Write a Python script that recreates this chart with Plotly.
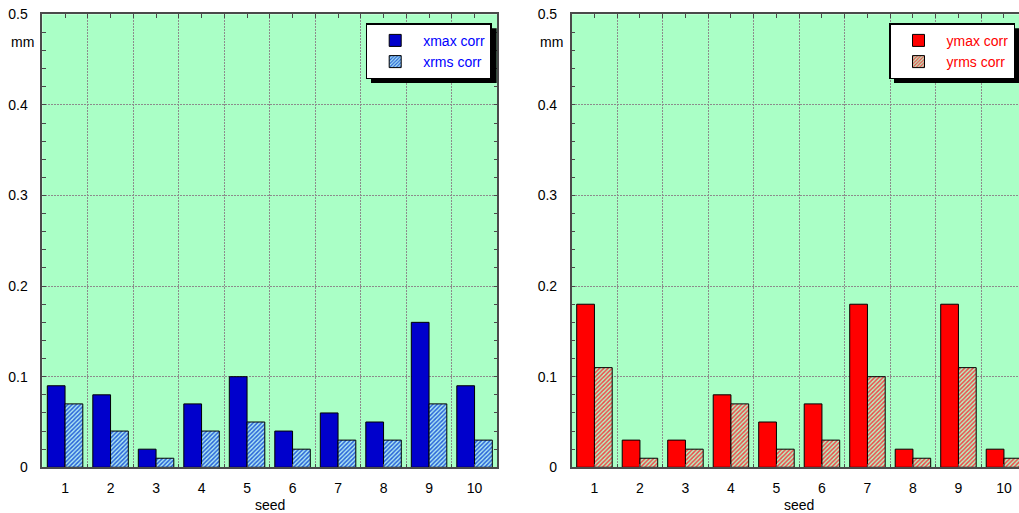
import plotly.graph_objects as go

seeds = [1, 2, 3, 4, 5, 6, 7, 8, 9, 10]
xmax_corr = [0.09, 0.08, 0.02, 0.07, 0.10, 0.04, 0.06, 0.05, 0.16, 0.09]
xrms_corr = [0.07, 0.04, 0.01, 0.04, 0.05, 0.02, 0.03, 0.03, 0.07, 0.03]
ymax_corr = [0.18, 0.03, 0.03, 0.08, 0.05, 0.07, 0.18, 0.02, 0.18, 0.02]
yrms_corr = [0.11, 0.01, 0.02, 0.07, 0.02, 0.03, 0.10, 0.01, 0.11, 0.01]
y_ticks = [0, 0.1, 0.2, 0.3, 0.4, 0.5]
y_ticktext = ["0", "0.1", "0.2", "0.3", "0.4", "0.5"]

W, H = 1019, 513
FONT = "Liberation Sans, Arial, sans-serif"
BG = "#aaffc6"
FRAME = "#4a4a4a"
GRID = "#8c8c8c"
GRIDDASH = "2px,1px"

def px(x):
    return x / W

def py(y):
    return 1 - y / H

fig = go.Figure()

fig.add_trace(go.Bar(x=seeds, y=xmax_corr, name="xmax corr", xaxis="x", yaxis="y",
                     marker=dict(color="#0000cc", line=dict(color="black", width=1)),
                     legend="legend"))
fig.add_trace(go.Bar(x=seeds, y=xrms_corr, name="xrms corr", xaxis="x", yaxis="y",
                     marker=dict(color="#b0e4f4", line=dict(color="black", width=1),
                                 pattern=dict(shape="/", fgcolor="#2862d8", bgcolor="#aee8f4",
                                              size=3, solidity=0.5, fillmode="replace")),
                     legend="legend"))
fig.add_trace(go.Bar(x=seeds, y=ymax_corr, name="ymax corr", xaxis="x2", yaxis="y2",
                     marker=dict(color="#ff0000", line=dict(color="black", width=1)),
                     legend="legend2"))
fig.add_trace(go.Bar(x=seeds, y=yrms_corr, name="yrms corr", xaxis="x2", yaxis="y2",
                     marker=dict(color="#f0b0a0", line=dict(color="black", width=1),
                                 pattern=dict(shape="/", fgcolor="#f04848", bgcolor="#b4f4c4",
                                              size=3, solidity=0.5, fillmode="replace")),
                     legend="legend2"))

L1, R1 = 42.3, 497.3
L2 = 571.7
TOP, BOT = 14.3, 467.3
UNIT = (R1 - L1) / 10.0
R2 = L2 + 10 * UNIT  # extends beyond the window, clipped at the page edge

common_x = dict(
    tickmode="array", tickvals=seeds, ticktext=[str(s) for s in seeds],
    ticks="inside", ticklen=4, tickcolor=FRAME, tickwidth=1,
    showline=True, linecolor=FRAME, linewidth=1.5, mirror="ticks",
    showgrid=False, zeroline=False,
    minor=dict(tick0=0.5, dtick=1, ticks="inside", ticklen=4, tickcolor=FRAME,
               showgrid=True, gridcolor=GRID, griddash=GRIDDASH, gridwidth=1),
    tickfont=dict(family=FONT, size=14, color="black"),
    ticklabelstandoff=7, ticklabeloverflow="allow", automargin=False, fixedrange=True,
)
common_y = dict(
    range=[0, 0.5], tickmode="array", tickvals=y_ticks, ticktext=y_ticktext,
    ticks="inside", ticklen=4, tickcolor=FRAME, tickwidth=1,
    showline=True, linecolor=FRAME, linewidth=1.5,
    showgrid=True, gridcolor=GRID, griddash=GRIDDASH, gridwidth=1, zeroline=False,
    minor=dict(dtick=0.02, ticks="inside", ticklen=4, tickcolor=FRAME, showgrid=False),
    tickfont=dict(family=FONT, size=14, color="black"),
    ticklabelstandoff=10, ticklabeloverflow="allow", automargin=False, fixedrange=True,
    domain=[py(BOT), py(TOP)],
)

fig.update_layout(
    width=W, height=H,
    margin=dict(l=0, r=0, t=0, b=0, autoexpand=False),
    paper_bgcolor="white",
    barmode="group", bargap=0.22, bargroupgap=0.0,
    font=dict(family=FONT, size=14, color="black"),
    xaxis=dict(common_x, domain=[px(L1), px(R1)], range=[0.5, 10.5], anchor="y"),
    yaxis=dict(common_y, anchor="x", mirror="ticks"),
    xaxis2=dict(common_x, domain=[px(L2), 1.0], range=[0.5, 0.5 + (W - L2) / UNIT], anchor="y2"),
    yaxis2=dict(common_y, anchor="x2", mirror=False),
    plot_bgcolor=BG,
    legend=dict(x=px(491.7), y=py(23.3), xanchor="right", yanchor="top",
                bgcolor="white", bordercolor="black", borderwidth=1.5,
                font=dict(family=FONT, size=14, color="#0000ff"),
                itemwidth=46, tracegroupgap=0, traceorder="normal"),
    legend2=dict(x=px(889), y=py(23.3), xanchor="left", yanchor="top",
                 bgcolor="white", bordercolor="black", borderwidth=1.5,
                 font=dict(family=FONT, size=14, color="#ff0000"),
                 itemwidth=46, tracegroupgap=0, traceorder="normal"),
    showlegend=True,
)

# legend drop shadows (page coords of the legend boxes, offset by 5 px)
for (l, r, t, b) in [(366, 491.7, 23.3, 78), (889, 1040, 23.3, 78)]:
    fig.add_shape(type="rect", xref="paper", yref="paper",
                  x0=px(l + 5), x1=px(r + 5), y0=py(b + 5), y1=py(t + 5),
                  fillcolor="black", line=dict(width=0), layer="above")

annots = [
    dict(text="mm", x=px(22), y=py(42)),
    dict(text="mm", x=px(551.5), y=py(42)),
    dict(text="seed", x=px((L1 + R1) / 2), y=py(505)),
    dict(text="seed", x=px((L2 + R2) / 2), y=py(505)),
]
for a in annots:
    fig.add_annotation(xref="paper", yref="paper", showarrow=False,
                       xanchor="center", yanchor="middle",
                       font=dict(family=FONT, size=14, color="black"), **a)

fig.write_html("out.html",
               config={"displayModeBar": False},
               post_script="document.body.style.margin='0';document.body.style.overflow='hidden';")
